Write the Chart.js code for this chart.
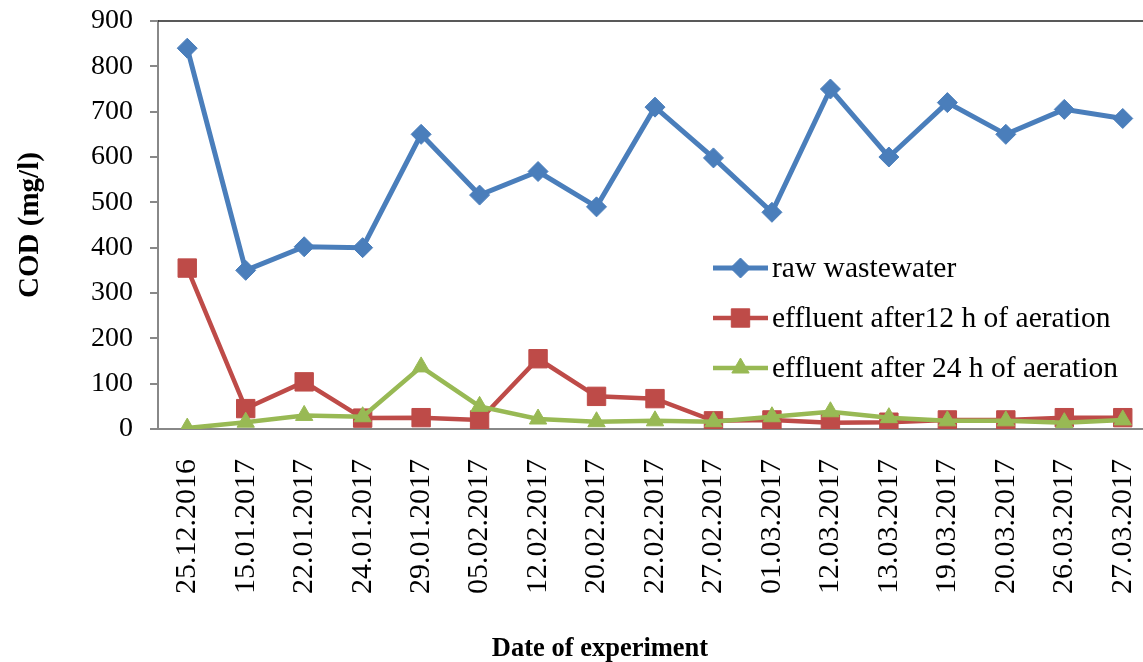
<!DOCTYPE html>
<html lang="en">
<head>
    <meta charset="UTF-8">
    <title>COD</title>
    <script src="https://cdn.jsdelivr.net/npm/chart.js"></script>
    <style>
        html, body {
            margin: 0;
            padding: 0;
            background: #ffffff;
            overflow: hidden;
        }
    </style>
</head>
<body>
    <canvas id="chart" width="1143" height="662"></canvas>

    <script>
        // data
        const dates = ['25.12.2016', '15.01.2017', '22.01.2017', '24.01.2017', '29.01.2017', '05.02.2017',
            '12.02.2017', '20.02.2017', '22.02.2017', '27.02.2017', '01.03.2017', '12.03.2017',
            '13.03.2017', '19.03.2017', '20.03.2017', '26.03.2017', '27.03.2017'];
        const rawWastewater = [840, 350, 402, 400, 650, 516, 568, 490, 710, 598, 478, 750, 600, 720, 650, 705, 685];
        const after12h = [355, 45, 104, 24, 25, 20, 155, 72, 67, 18, 20, 14, 15, 20, 20, 25, 25];
        const after24h = [2, 15, 30, 27, 137, 50, 22, 16, 18, 16, 27, 38, 25, 18, 18, 14, 20];
        const yTicks = [0, 100, 200, 300, 400, 500, 600, 700, 800, 900];
        const xTitle = 'Date of experiment';

        const serif = "'Liberation Serif', 'Times New Roman', serif";

        // the original plot area runs a little past the right edge of the picture
        const widePlot = {
            id: 'widePlot',
            afterLayout(chart) {
                const x = chart.scales.x;
                x.right = 1152;
                x.width = x.right - x.left;
                chart.chartArea.right = 1152;
                chart.chartArea.width = 1152 - chart.chartArea.left;
                x.configure();
            }
        };

        // legend drawn inside the plot, line + marker + text
        const lineLegend = {
            id: 'lineLegend',
            afterDraw(chart) {
                const ctx = chart.ctx;
                const x0 = 713, x1 = 768, y0 = 268, gap = 50;
                chart.data.datasets.forEach((ds, i) => {
                    const y = y0 + i * gap;
                    ctx.save();
                    ctx.strokeStyle = ds.borderColor;
                    ctx.lineWidth = ds.borderWidth;
                    ctx.beginPath();
                    ctx.moveTo(x0, y);
                    ctx.lineTo(x1, y);
                    ctx.stroke();
                    ctx.fillStyle = ds.pointBackgroundColor;
                    ctx.strokeStyle = ds.pointBorderColor;
                    ctx.lineWidth = 1;
                    Chart.helpers.drawPoint(ctx, {
                        pointStyle: ds.pointStyle,
                        radius: ds.pointRadius,
                        rotation: 0,
                        borderWidth: 1
                    }, (x0 + x1) / 2, y);
                    ctx.fillStyle = '#000000';
                    ctx.font = '29.5px ' + serif;
                    ctx.textBaseline = 'middle';
                    ctx.textAlign = 'left';
                    ctx.fillText(ds.label, x1 + 4, y + 1);
                    ctx.restore();
                });

                // x axis title, centred on the whole figure as in the original
                ctx.save();
                ctx.fillStyle = '#000000';
                ctx.font = 'bold 26.5px ' + serif;
                ctx.textAlign = 'center';
                ctx.textBaseline = 'middle';
                ctx.fillText(xTitle, 600, 649);
                ctx.restore();
            }
        };

        // top border of the plot area
        const topBorder = {
            id: 'topBorder',
            beforeDatasetsDraw(chart) {
                const { ctx, chartArea } = chart;
                ctx.save();
                ctx.strokeStyle = '#222222';
                ctx.lineWidth = 1.5;
                ctx.beginPath();
                ctx.moveTo(chartArea.left, chartArea.top);
                ctx.lineTo(chartArea.right, chartArea.top);
                ctx.stroke();
                ctx.restore();
            }
        };

        new Chart(document.getElementById('chart'), {
            type: 'line',
            data: {
                labels: dates,
                datasets: [
                    {
                        label: 'raw wastewater',
                        data: rawWastewater,
                        borderColor: '#4a7ebb',
                        backgroundColor: '#4a7ebb',
                        pointBackgroundColor: '#4a7ebb',
                        pointBorderColor: '#4a7ebb',
                        borderWidth: 5,
                        pointStyle: 'rectRot',
                        pointRadius: 10,
                        pointBorderWidth: 1,
                        order: 0
                    },
                    {
                        label: 'effluent after12 h of aeration',
                        data: after12h,
                        borderColor: '#be4b48',
                        backgroundColor: '#be4b48',
                        pointBackgroundColor: '#be4b48',
                        pointBorderColor: '#be4b48',
                        borderWidth: 4.5,
                        pointStyle: 'rect',
                        pointRadius: 13,
                        pointBorderWidth: 1,
                        order: 2
                    },
                    {
                        label: 'effluent after 24 h of aeration',
                        data: after24h,
                        borderColor: '#98b954',
                        backgroundColor: '#98b954',
                        pointBackgroundColor: '#98b954',
                        pointBorderColor: '#98b954',
                        borderWidth: 4.5,
                        pointStyle: 'triangle',
                        pointRadius: 10,
                        pointBorderWidth: 1,
                        order: 1
                    }
                ]
            },
            options: {
                responsive: false,
                animation: false,
                layout: {
                    padding: { top: 21, right: 0, bottom: 0, left: 0 }
                },
                plugins: {
                    legend: { display: false },
                    tooltip: { enabled: false }
                },
                scales: {
                    x: {
                        offset: true,
                        afterFit(scale) {
                            scale.height = 233;
                        },
                        afterUpdate(scale) {
                            scale.paddingLeft = 0;
                            scale.paddingRight = 0;
                        },
                        grid: { display: false, drawTicks: false },
                        border: { display: true, color: '#888888', width: 2 },
                        ticks: {
                            color: '#000000',
                            font: { family: serif, size: 30 },
                            minRotation: 90,
                            maxRotation: 90,
                            padding: 30,
                            autoSkip: false
                        }
                    },
                    y: {
                        min: 0,
                        max: 900,
                        afterFit(scale) {
                            scale.width = 158;
                        },
                        afterUpdate(scale) {
                            scale.paddingTop = 0;
                            scale.paddingBottom = 0;
                        },
                        afterBuildTicks(scale) { scale.ticks = yTicks.map(v => ({ value: v })); },
                        grid: {
                            drawOnChartArea: false,
                            drawTicks: true,
                            tickLength: 8,
                            color: '#888888',
                            lineWidth: 2
                        },
                        border: { display: true, color: '#888888', width: 2 },
                        ticks: {
                            color: '#000000',
                            font: { family: serif, size: 28 },
                            padding: 17
                        },
                        title: {
                            display: true,
                            text: 'COD (mg/l)',
                            color: '#000000',
                            font: { family: serif, size: 29, weight: 'bold', lineHeight: 1.2 },
                            padding: { top: 13, bottom: 0 }
                        }
                    }
                }
            },
            plugins: [widePlot, topBorder, lineLegend]
        });
    </script>
</body>
</html>
